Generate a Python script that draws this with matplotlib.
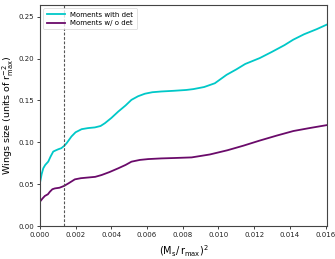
import matplotlib
matplotlib.use("Agg")
import matplotlib.pyplot as plt

# Data
x_with = [0.0, 0.0001, 0.00019, 0.0003, 0.00047, 0.0006, 0.00075, 0.0009, 0.00103, 0.0012,
          0.00136, 0.0015, 0.00177, 0.002, 0.00234, 0.0027, 0.00308, 0.0034, 0.00364, 0.004,
          0.00439, 0.0048, 0.00513, 0.0055, 0.00588, 0.0063, 0.00681, 0.0075, 0.0082, 0.00859,
          0.0092, 0.0098, 0.01046, 0.011, 0.0115, 0.01232, 0.013, 0.0137, 0.01419, 0.0148,
          0.0155, 0.01606]
y_with = [0.051, 0.062, 0.069, 0.073, 0.077, 0.083, 0.089, 0.0905, 0.0917, 0.093,
          0.0957, 0.099, 0.107, 0.112, 0.1157, 0.117, 0.1178, 0.1195, 0.1228, 0.129,
          0.1367, 0.144, 0.1507, 0.155, 0.158, 0.1598, 0.1607, 0.1615, 0.1625, 0.1635,
          0.166, 0.1705, 0.1806, 0.187, 0.1935, 0.2006, 0.208, 0.216, 0.2225, 0.229,
          0.235, 0.2404]

x_wo = [0.0, 0.00015, 0.00028, 0.00045, 0.00056, 0.0007, 0.00084, 0.0011, 0.00136, 0.0016,
        0.00196, 0.0023, 0.0027, 0.0031, 0.00346, 0.0039, 0.00439, 0.0048, 0.00513, 0.0056,
        0.00607, 0.0068, 0.00756, 0.0085, 0.00952, 0.0105, 0.0114, 0.0123, 0.01326, 0.0142,
        0.0151, 0.01606]
y_wo = [0.029, 0.033, 0.036, 0.038, 0.041, 0.044, 0.045, 0.0458, 0.048, 0.051,
        0.0558, 0.0572, 0.058, 0.0588, 0.061, 0.0645, 0.069, 0.073, 0.0769, 0.079,
        0.080, 0.0808, 0.0813, 0.082, 0.0855, 0.0905, 0.096, 0.102, 0.108, 0.1135,
        0.117, 0.1205]

vline_x = 0.00134
labels = ["Moments with det", "Moments w/ o det"]
xticks = [0.000, 0.002, 0.004, 0.006, 0.008, 0.010, 0.012, 0.014, 0.016]
yticks = [0.00, 0.05, 0.10, 0.15, 0.20, 0.25]

fig = plt.figure(figsize=(3.35, 2.59), dpi=100)
ax = fig.add_axes([0.119, 0.127, 0.857, 0.854])

ax.plot(x_with, y_with, color="#00c8c8", lw=1.3, label=labels[0])
ax.plot(x_wo, y_wo, color="#6a0a6a", lw=1.3, label=labels[1])
ax.axvline(vline_x, color="#555555", ls="--", lw=0.8, dashes=(2.5, 1.5))

ax.set_xlim(0, 0.01608)
ax.set_ylim(0, 0.264)
ax.set_xticks(xticks)
ax.set_yticks(yticks)
ax.set_xticklabels([f"{v:.3f}" for v in xticks])
ax.set_yticklabels([f"{v:.2f}" for v in yticks])
ax.tick_params(labelsize=5, length=2.5, width=0.6, colors="#222222", pad=1.5)
for s in ax.spines.values():
    s.set_color("#444444")
    s.set_linewidth(0.8)

ax.set_xlabel(r"$(\mathrm{M_s/\,r_{max}})^2$", fontsize=7, labelpad=4)
ax.set_ylabel(r"Wings size (units of $\mathrm{r_{max}^{-2}}$)", fontsize=6.8, labelpad=2)

leg = ax.legend(loc="upper left", fontsize=5, frameon=True, handlelength=2.6,
                borderpad=0.5, labelspacing=0.3, fancybox=True)
leg.get_frame().set_linewidth(0.5)
leg.get_frame().set_edgecolor("#cccccc")

fig.savefig("out.png", dpi=100)
